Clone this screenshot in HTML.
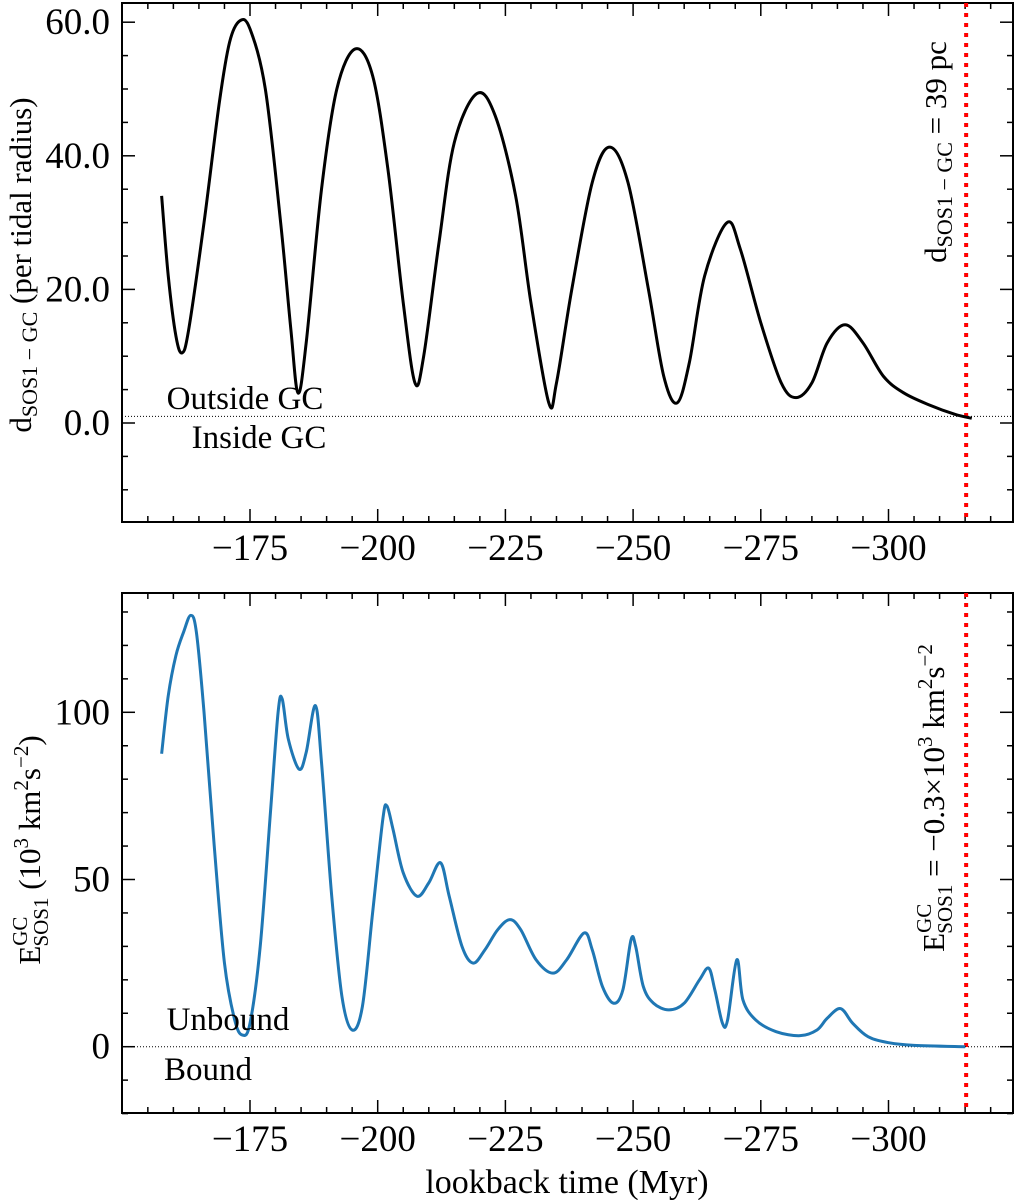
<!DOCTYPE html>
<html><head><meta charset="utf-8"><style>
body{margin:0;background:#fff}
svg{display:block;font-family:"Liberation Serif",serif}
</style></head><body>
<svg id="chart" width="1015" height="1200" viewBox="0 0 1015 1200" xmlns="http://www.w3.org/2000/svg"></svg>
<script>
const topTimes=[157.7,159,160.5,161.7,163,166,169,171,173,175,178,181,183,184.4,186,189,192,195.6,199,202,205,207.3,209,212,215,219.4,223,227,230,233.5,235,238,242,245.4,249,253,256,258.6,261,264,268.4,271,275,279,281.9,285,288,291.5,295,299,303,308,313,316.3];
const topValues=[34,22,13,10.5,14,30,48,57,60.2,59,50,30,14,4.5,12,35,50,56,52,38,18,6,10,27,42,49.3,46,34,18,3,6,20,36,41.3,36,20,7,3,9,22,30,26,15,6,3.8,6,12,14.7,12,7,4.5,2.7,1.3,0.7];
const botTimes=[157.7,159,160.5,162,163.4,164.5,166,168,170,172,173.5,175,177,179,180.5,181.3,182.5,184.6,186,187.8,189,191,193,195,197,199,201,201.8,203,205,207.7,210,212.3,214,216.5,218.7,221,223.5,225.9,228,231,234.3,237,240.4,242,244,246.2,248,249.6,250.5,252,254,257,260,263,264.8,266,267.5,268.5,270.3,271.5,274,278,282.7,286,288,290.6,293,296,300,305,315];
const botValues=[87.6,105,117,124,129,124,100,60,25,8,3.5,7,30,70,100,104,92,83,88,102,85,45,15,5,12,40,68,72,65,52,45,49,55,45,30,25,29,35,38,35,26,22,26,34,29,18,13,17,32,30,18,13,11,13,20,23.5,17,7,8,26,14,8,4.5,3.3,5,8.5,11.4,7,3,1.2,0.4,0];
const xTicks=[175,200,225,250,275,300];
const topYTicks=[0,20,40,60];
const botYTicks=[0,50,100];
const redLineTime=315.2;

const svg=document.getElementById('chart');
const NS='http://www.w3.org/2000/svg';
const X0=122,X1=1013;
function xs(a){return 250+(a-175)*5.108;}
const aMin=150,aMax=324.4;
const topY=v=>423-v*6.68;
const botY=v=>1046.7-v*3.344;
function el(tag,attrs,parent){const e=document.createElementNS(NS,tag);for(const k in attrs)e.setAttribute(k,attrs[k]);(parent||svg).appendChild(e);return e;}
function txt(s,x,y,size,anchor,parent){const t=el('text',{x:x,y:y,'font-size':size,'text-anchor':anchor||'middle'},parent);t.textContent=s;return t;}
function smooth(pts){let d='M'+pts[0][0]+','+pts[0][1];for(let i=0;i<pts.length-1;i++){const p0=pts[Math.max(0,i-1)],p1=pts[i],p2=pts[i+1],p3=pts[Math.min(pts.length-1,i+2)];const c1=[p1[0]+(p2[0]-p0[0])/6,p1[1]+(p2[1]-p0[1])/6],c2=[p2[0]-(p3[0]-p1[0])/6,p2[1]-(p3[1]-p1[1])/6];d+=' C'+c1+' '+c2+' '+p2;}return d;}

function panel(name,yT,yB,yf,yTicks,yMinor,yMin,yMax,fmt){
  const g=el('g',{});
  
  
  const frame=el('rect',{x:X0,y:yT,width:X1-X0,height:yB-yT,fill:'none',stroke:'#000','stroke-width':2},g);
  
  
  for(let a=155;a<=aMax;a+=5){const x=xs(a);const major=xTicks.includes(a);const L=major?13:6;
    el('line',{x1:x,x2:x,y1:yB,y2:yB-L,stroke:'#000','stroke-width':1.5},g);
    el('line',{x1:x,x2:x,y1:yT,y2:yT+L,stroke:'#000','stroke-width':1.5},g);}
  xTicks.forEach(a=>{const t=txt('\u2212'+a,xs(a),yB+38,37,'middle',g);
    
    });
  for(let v=Math.ceil(yMin/yMinor)*yMinor;v<=yMax;v+=yMinor){const y=yf(v);const major=yTicks.includes(v);const L=major?13:6;
    el('line',{x1:X0,x2:X0+L,y1:y,y2:y,stroke:'#000','stroke-width':1.5},g);
    el('line',{x1:X1,x2:X1-L,y1:y,y2:y,stroke:'#000','stroke-width':1.5},g);}
  yTicks.forEach(v=>{const t=txt(fmt(v),X0-12,yf(v)+12,37,'end',g);
    
    });
  const r=el('line',{x1:xs(redLineTime),x2:xs(redLineTime),y1:yT,y2:yB,stroke:'#f00','stroke-width':4,'stroke-dasharray':'4 6'},g);
  
  
  return g;
}
const gT=panel('top-panel',3,522,topY,topYTicks,5,-14,63,v=>v.toFixed(1));
const gB=panel('bottom-panel',593,1113,botY,botYTicks,10,-20,136,v=>String(v));

const h1=el('line',{x1:X0,x2:X1,y1:topY(1),y2:topY(1),stroke:'#000','stroke-width':1,'stroke-dasharray':'1 2'},gT);


const h2=el('line',{x1:X0,x2:X1,y1:botY(0),y2:botY(0),stroke:'#000','stroke-width':1,'stroke-dasharray':'1 2'},gB);



const l1=el('path',{d:smooth(topTimes.map((a,i)=>[xs(a),topY(topValues[i])])),fill:'none',stroke:'#000','stroke-width':3},gT);


const l2=el('path',{d:smooth(botTimes.map((a,i)=>[xs(a),botY(botValues[i])])),fill:'none',stroke:'#1f77b4','stroke-width':3},gB);



let t;
t=txt('Outside GC',245,409,33,'middle',gT);
t=txt('Inside GC',259,448,33,'middle',gT);
t=txt('Unbound',228,1030,33,'middle',gB);
t=txt('Bound',208,1080,33,'middle',gB);
</script>
<svg width="1015" height="1200" style="position:absolute;left:0;top:0" xmlns="http://www.w3.org/2000/svg" font-family="Liberation Serif,serif">
<text transform="translate(31,265) rotate(-90)" text-anchor="middle" font-size="31">d<tspan font-size="22" dy="6">SOS1 − GC</tspan><tspan dy="-6"> (per tidal radius)</tspan></text>
<text transform="translate(946,152) rotate(-90)" text-anchor="middle" font-size="31">d<tspan font-size="22" dy="6">SOS1 − GC</tspan><tspan dy="-6"> = 39 pc</tspan></text>
<text transform="translate(40,850) rotate(-90)" text-anchor="middle" font-size="31">E<tspan font-size="21" dy="-13">GC</tspan><tspan font-size="21" dx="-30" dy="21">SOS1</tspan><tspan dy="-8">  (10</tspan><tspan font-size="21" dy="-12">3</tspan><tspan dy="12"> km</tspan><tspan font-size="21" dy="-12">2</tspan><tspan dy="12">s</tspan><tspan font-size="21" dy="-12">−2</tspan><tspan dy="12">)</tspan></text>
<text transform="translate(944,798) rotate(-90)" text-anchor="middle" font-size="31">E<tspan font-size="21" dy="-13">GC</tspan><tspan font-size="21" dx="-30" dy="21">SOS1</tspan><tspan dy="-8"> = −0.3×10</tspan><tspan font-size="21" dy="-12">3</tspan><tspan dy="12"> km</tspan><tspan font-size="21" dy="-12">2</tspan><tspan dy="12">s</tspan><tspan font-size="21" dy="-12">−2</tspan></text>
<text x="567" y="1193" text-anchor="middle" font-size="34">lookback time (Myr)</text>
</svg>
</body></html>
